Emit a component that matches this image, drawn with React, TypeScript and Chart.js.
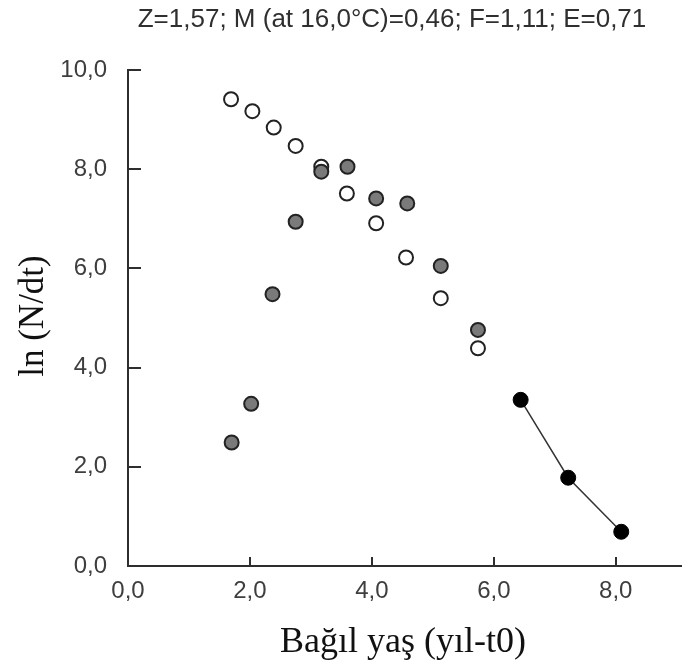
import React, { useEffect, useRef } from "react";
import { Chart, registerables } from "chart.js";

Chart.register(...registerables);

// ---- text ----
const titleText = "Z=1,57; M (at 16,0°C)=0,46; F=1,11; E=0,71";
const xTitle = "Bağıl yaş (yıl-t0)";
const yTitle = "ln (N/dt)";

// ---- data ----
const openAges = [1.69, 2.04, 2.39, 2.75, 3.17, 3.59, 4.07, 4.56, 5.13, 5.74];
const openLnN = [9.41, 9.17, 8.84, 8.47, 8.05, 7.51, 6.91, 6.22, 5.4, 4.39];
const greyAges = [1.7, 2.02, 2.37, 2.75, 3.17, 3.6, 4.07, 4.58, 5.13, 5.74];
const greyLnN = [2.49, 3.27, 5.48, 6.94, 7.95, 8.05, 7.41, 7.31, 6.05, 4.76];
const fitAges = [6.44, 7.22, 8.09];
const fitLnN = [3.35, 1.78, 0.69];
const xTicks = [0, 2, 4, 6, 8];
const yTicks = [0, 2, 4, 6, 8, 10];

const toPts = (xs: number[], ys: number[]) => xs.map((x, i) => ({ x, y: ys[i] }));
const fmt = (v: number) => Number(v).toFixed(1).replace(".", ",");

const AXIS = "#2e2e2e";

const decorPlugin = {
  id: "decor",
  afterDraw(chart: any) {
    const { ctx, chartArea, scales } = chart;
    const xs = scales.x;
    const ys = scales.y;
    ctx.save();
    // inward tick marks
    ctx.strokeStyle = AXIS;
    ctx.lineWidth = 2;
    ys.ticks.forEach((t: any) => {
      if (t.value === 0) return;
      const y = Math.round(ys.getPixelForValue(t.value));
      ctx.beginPath();
      ctx.moveTo(chartArea.left, y);
      ctx.lineTo(chartArea.left + 13, y);
      ctx.stroke();
    });
    xs.ticks.forEach((t: any) => {
      if (t.value === 0) return;
      const x = Math.round(xs.getPixelForValue(t.value));
      ctx.beginPath();
      ctx.moveTo(x, chartArea.bottom);
      ctx.lineTo(x, chartArea.bottom - 9);
      ctx.stroke();
    });
    // title
    ctx.fillStyle = "#2f2f2f";
    ctx.font = "26px 'Liberation Sans', Arial, sans-serif";
    ctx.textAlign = "center";
    ctx.textBaseline = "middle";
    ctx.fillText(titleText, 392, 20);
    // axis titles
    ctx.fillStyle = "#111111";
    ctx.font = "36px 'Liberation Serif', 'Times New Roman', serif";
    ctx.fillText(xTitle, 403, 643);
    ctx.save();
    ctx.translate(34, 316);
    ctx.rotate(-Math.PI / 2);
    ctx.font = "35px 'Liberation Serif', 'Times New Roman', serif";
    ctx.fillText(yTitle, 0, 0);
    ctx.restore();
    ctx.restore();
  },
};

export default function App() {
  const ref = useRef<HTMLCanvasElement | null>(null);

  useEffect(() => {
    if (!ref.current) return;
    const tickFont = { family: "'Liberation Sans', Arial, sans-serif", size: 24 };
    const chart = new Chart(ref.current, {
      type: "scatter",
      data: {
        datasets: [
          {
            label: "grey",
            data: toPts(greyAges, greyLnN),
            backgroundColor: "#7a7a7a",
            borderColor: "#222222",
            borderWidth: 2,
            pointRadius: 7,
          },
          {
            label: "open",
            data: toPts(openAges, openLnN),
            backgroundColor: "#ffffff",
            borderColor: "#222222",
            borderWidth: 2,
            pointRadius: 7,
          },
          {
            label: "selected",
            data: toPts(fitAges, fitLnN),
            showLine: true,
            backgroundColor: "#000000",
            borderColor: "#333333",
            pointBorderColor: "#000000",
            borderWidth: 1.5,
            pointBorderWidth: 1,
            pointRadius: 7.5,
          },
        ],
      },
      options: {
        responsive: false,
        animation: false,
        layout: { padding: { top: 70, left: 0, right: 0, bottom: 0 } },
        plugins: {
          legend: { display: false },
          title: { display: false },
          tooltip: { enabled: false },
        },
        scales: {
          x: {
            type: "linear",
            min: 0,
            max: 9.07,
            afterBuildTicks: (s: any) => {
              s.ticks = xTicks.map((v) => ({ value: v }));
            },
            afterFit: (s: any) => {
              s.height = 98;
            },
            grid: { display: false, drawTicks: false },
            border: { display: true, color: AXIS, width: 2 },
            ticks: {
              font: tickFont,
              color: "#3e3e3e",
              padding: 11,
              maxRotation: 0,
              callback: (v: any) => fmt(v),
            },
          },
          y: {
            type: "linear",
            min: 0,
            max: 10,
            afterBuildTicks: (s: any) => {
              s.ticks = yTicks.map((v) => ({ value: v }));
            },
            afterFit: (s: any) => {
              s.width = 128;
            },
            grid: { display: false, drawTicks: false },
            border: { display: true, color: AXIS, width: 2 },
            ticks: {
              font: tickFont,
              color: "#3e3e3e",
              padding: 21,
              callback: (v: any) => fmt(v),
            },
          },
        },
      },
      plugins: [decorPlugin],
    });
    return () => chart.destroy();
  }, []);

  return (
    <canvas
      ref={ref}
      width={690}
      height={664}
      style={{ position: "absolute", left: 0, top: 0, width: 690, height: 664 }}
    />
  );
}
